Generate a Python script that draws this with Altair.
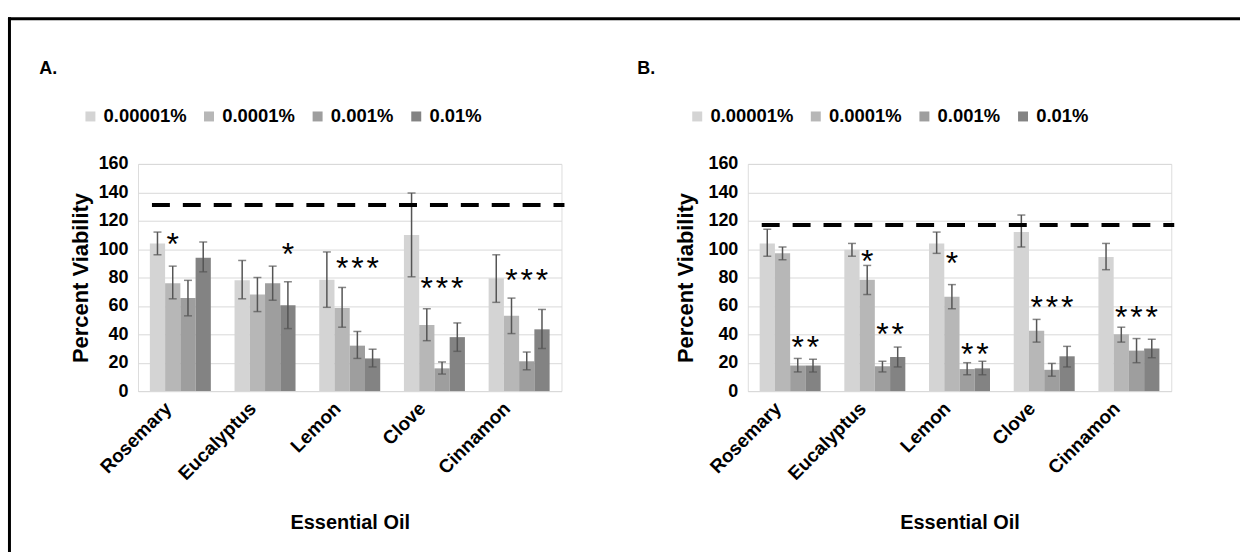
import altair as alt
import pandas as pd

oils = ["Rosemary", "Eucalyptus", "Lemon", "Clove", "Cinnamon"]
concs = ["0.00001%", "0.0001%", "0.001%", "0.01%"]
colors = ["#d4d4d4", "#b7b7b7", "#9e9e9e", "#838383"]

# Panel A: mean and error-bar ends, rows = oils, columns = concentrations
a_mean = [[104, 76, 65.5, 94], [78, 68, 76, 60.5], [78.5, 58.5, 32, 23],
          [110, 46.5, 16, 38], [79.5, 53, 21, 43.5]]
a_hi = [[112, 88, 78, 105], [92, 80, 88, 77], [98, 73, 42, 29.5],
        [139.5, 58, 20.5, 48], [96, 65.5, 27.5, 57.5]]
a_lo = [[96, 65, 53, 84], [65, 56, 64, 44], [59, 45, 23, 17],
        [80.5, 35.5, 12, 28], [62.5, 40.5, 15, 30]]
a_control = 131

# Panel B
b_mean = [[104, 97, 18, 18], [99.5, 78.5, 17.5, 24], [104, 66.5, 15.5, 16],
          [112, 42.5, 15, 24.5], [94.5, 40, 28.5, 30]]
b_hi = [[114, 101.5, 23, 22.5], [104, 88.5, 21, 31], [112, 75, 20, 21],
        [124, 50.5, 19.5, 31.5], [104, 45, 37, 36.5]]
b_lo = [[95, 92.5, 13.5, 13.5], [95, 68, 13.5, 17], [97, 58, 11.5, 11.5],
        [101.5, 34.5, 10.5, 17], [85.5, 34.5, 20, 23.5]]
b_control = 117

# significance asterisks: oil, concentration, height
a_sig_oil = ["Rosemary", "Eucalyptus", "Lemon", "Lemon", "Lemon",
             "Clove", "Clove", "Clove", "Cinnamon", "Cinnamon", "Cinnamon"]
a_sig_conc = ["0.0001%", "0.01%", "0.0001%", "0.001%", "0.01%",
              "0.0001%", "0.001%", "0.01%", "0.0001%", "0.001%", "0.01%"]
a_sig_y = [109, 102, 92.5, 92.5, 92.5, 78.5, 78.5, 78.5, 83.5, 83.5, 83.5]

b_sig_oil = ["Rosemary", "Rosemary", "Eucalyptus", "Eucalyptus", "Eucalyptus",
             "Lemon", "Lemon", "Lemon", "Clove", "Clove", "Clove",
             "Cinnamon", "Cinnamon", "Cinnamon"]
b_sig_conc = ["0.001%", "0.01%", "0.0001%", "0.001%", "0.01%",
              "0.0001%", "0.001%", "0.01%", "0.0001%", "0.001%", "0.01%",
              "0.0001%", "0.001%", "0.01%"]
b_sig_y = [36.5, 36.5, 97.5, 46, 46, 96, 32, 32, 64.5, 64.5, 64.5, 57.5, 57.5, 57.5]

FONT = "Liberation Sans"
H = 228
A_LEFT = 136
B_LEFT = 748
WA = 425
WB = 425


def table(mean, hi, lo):
    rows = []
    for i, oil in enumerate(oils):
        for j, c in enumerate(concs):
            rows.append({"oil": oil, "conc": c, "mean": mean[i][j],
                         "hi": hi[i][j], "lo": lo[i][j]})
    return pd.DataFrame(rows)


def panel(letter, mean, hi, lo, control, s_oil, s_conc, s_y, left, width,
          legend_x, letter_x, title_x, frame=False):
    df = table(mean, hi, lo)
    xenc = alt.X("oil:N", sort=oils,
                 scale=alt.Scale(paddingInner=0.28, paddingOuter=0.14),
                 axis=alt.Axis(title="Essential Oil", labelAngle=-45, labelAlign="right",
                               labelBaseline="middle", labelFontSize=19,
                               labelFontWeight="bold", labelColor="black", labelFont=FONT,
                               ticks=False, domainColor="#d9d9d9", domainWidth=1,
                               labelPadding=14, labelOffset=-12, titleY=132,
                               titleBaseline="middle",
                               titleFontSize=20, titleFontWeight="bold", titleFont=FONT,
                               titleColor="black", grid=False))
    xoff = alt.XOffset("conc:N", sort=concs, scale=alt.Scale(paddingInner=0, paddingOuter=0))
    yaxis = alt.Axis(title="Percent Viability", values=list(range(0, 161, 20)),
                     labelFontSize=18, labelFontWeight="bold", labelColor="black",
                     labelFont=FONT, titleFont=FONT, titleFontSize=22,
                     titleFontWeight="bold", titleColor="black", grid=True,
                     gridColor="#d9d9d9", gridWidth=1, domain=False, ticks=False,
                     labelPadding=10, titleX=title_x, titleBaseline="middle")
    yscale = alt.Scale(domain=[0, 160], nice=False)

    base = alt.Chart(df)
    bars = base.mark_bar().encode(
        x=xenc, xOffset=xoff,
        y=alt.Y("mean:Q", scale=yscale, axis=yaxis),
        color=alt.Color("conc:N", sort=concs,
                        scale=alt.Scale(domain=concs, range=colors),
                        legend=alt.Legend(orient="none", legendX=legend_x, legendY=-57,
                                          direction="horizontal", title=None,
                                          symbolType="square", symbolSize=100,
                                          symbolStrokeWidth=0, labelFontSize=18.5,
                                          labelFontWeight="bold", labelFont=FONT,
                                          labelColor="black", labelOffset=4,
                                          columnPadding=13, padding=0)),
    )
    err = base.mark_rule(color="#555555", strokeWidth=1.5).encode(
        x=xenc, xOffset=xoff,
        y=alt.Y("lo:Q", scale=yscale, axis=yaxis), y2="hi:Q")
    cap_hi = base.mark_tick(color="#555555", thickness=1.5, size=8, orient="horizontal").encode(
        x=xenc, xOffset=xoff, y=alt.Y("hi:Q", scale=yscale, axis=yaxis))
    cap_lo = base.mark_tick(color="#555555", thickness=1.5, size=8, orient="horizontal").encode(
        x=xenc, xOffset=xoff, y=alt.Y("lo:Q", scale=yscale, axis=yaxis))

    dash = alt.Chart(pd.DataFrame({"c": [control]})).mark_rule(
        color="black", strokeWidth=4, strokeDash=[18, 13]).encode(
        y=alt.Y("c:Q", scale=yscale, axis=yaxis),
        x=alt.value(14), x2=alt.value(width + 3))

    sig = alt.Chart(pd.DataFrame({"oil": s_oil, "conc": s_conc, "y": s_y,
                                  "t": ["*"] * len(s_y)})).mark_text(
        fontSize=32, font=FONT, color="black", baseline="middle", align="center", dy=9).encode(
        x=xenc, xOffset=xoff, y=alt.Y("y:Q", scale=yscale, axis=yaxis), text="t:N")

    lab = alt.Chart(pd.DataFrame({"t": [letter]})).mark_text(
        fontSize=18, font=FONT, fontWeight="bold", color="black", align="left",
        baseline="middle").encode(text="t:N", x=alt.value(letter_x), y=alt.value(-95))

    layers = [bars, err, cap_hi, cap_lo, dash, sig, lab]
    if frame:
        fx = 7 - left
        fv = alt.Chart(pd.DataFrame({"k": [0]})).mark_rule(color="black", strokeWidth=3).encode(
            x=alt.value(fx), y=alt.value(-147.2), y2=alt.value(391.3))
        fh = alt.Chart(pd.DataFrame({"k": [0]})).mark_rule(color="black", strokeWidth=3).encode(
            y=alt.value(-145.7), x=alt.value(fx - 1.5), x2=alt.value(1242 - left))
        layers += [fv, fh]
    return alt.layer(*layers).properties(width=width, height=H)


pa = panel("A.", a_mean, a_hi, a_lo, a_control, a_sig_oil, a_sig_conc, a_sig_y,
           left=A_LEFT, width=WA, legend_x=79 - A_LEFT, letter_x=37 - A_LEFT,
           title_x=-58, frame=True)
pb = panel("B.", b_mean, b_hi, b_lo, b_control, b_sig_oil, b_sig_conc, b_sig_y,
           left=B_LEFT, width=WB, legend_x=688 - B_LEFT, letter_x=637 - B_LEFT,
           title_x=-62)

chart = alt.hconcat(pa, pb, spacing=B_LEFT - A_LEFT - WA, bounds="flush").resolve_legend(
    color="independent").properties(
    padding={"left": 5.5, "top": 13.5, "right": 0, "bottom": 0}
).configure_view(stroke=None).configure(background="white")

chart.save("out.html", embed_options={"renderer": "svg", "actions": False})
